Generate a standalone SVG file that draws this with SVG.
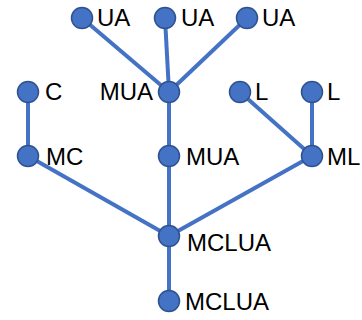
<svg xmlns="http://www.w3.org/2000/svg" width="362" height="320" viewBox="0 0 362 320">
<style>
.e{stroke:#4472C4;stroke-width:4;fill:none}
.n circle{fill:#4472C4;stroke:#2F528F;stroke-width:1.5}
.n text{font-family:"Liberation Sans",Arial,sans-serif;font-size:24px;fill:#000}
</style>
<rect width="362" height="320" fill="#fff"/>
<g id="edges">
<line class="e" x1="82" y1="18" x2="169" y2="92"/>
<line class="e" x1="165" y1="18" x2="169" y2="92"/>
<line class="e" x1="247" y1="18" x2="169" y2="92"/>
<line class="e" x1="28" y1="92" x2="28" y2="156"/>
<line class="e" x1="169" y1="92" x2="169" y2="156"/>
<line class="e" x1="240" y1="92" x2="312" y2="156"/>
<line class="e" x1="312" y1="92" x2="312" y2="156"/>
<line class="e" x1="28" y1="156" x2="169" y2="236"/>
<line class="e" x1="169" y1="156" x2="169" y2="236"/>
<line class="e" x1="312" y1="156" x2="169" y2="236"/>
<line class="e" x1="169" y1="236" x2="169" y2="301"/>
</g>
<g id="ua1" class="n"><circle cx="82" cy="18" r="10.5"/><text x="97" y="26">UA</text></g>
<g id="ua2" class="n"><circle cx="165" cy="18" r="10.5"/><text x="181" y="26">UA</text></g>
<g id="ua3" class="n"><circle cx="247" cy="18" r="10.5"/><text x="262" y="26">UA</text></g>
<g id="c" class="n"><circle cx="28" cy="92" r="10.5"/><text x="45" y="100">C</text></g>
<g id="mua1" class="n"><circle cx="169" cy="92" r="10.5"/><text x="153" y="100" text-anchor="end">MUA</text></g>
<g id="l1" class="n"><circle cx="240" cy="92" r="10.5"/><text x="255" y="100">L</text></g>
<g id="l2" class="n"><circle cx="312" cy="92" r="10.5"/><text x="327" y="100">L</text></g>
<g id="mc" class="n"><circle cx="28" cy="156" r="10.5"/><text x="46" y="165">MC</text></g>
<g id="mua2" class="n"><circle cx="169" cy="156" r="10.5"/><text x="186" y="165">MUA</text></g>
<g id="ml" class="n"><circle cx="312" cy="156" r="10.5"/><text x="327" y="165">ML</text></g>
<g id="mclua1" class="n"><circle cx="169" cy="236" r="10.5"/><text x="187" y="251">MCLUA</text></g>
<g id="mclua2" class="n"><circle cx="169" cy="301" r="10.5"/><text x="185" y="310">MCLUA</text></g>
</svg>
